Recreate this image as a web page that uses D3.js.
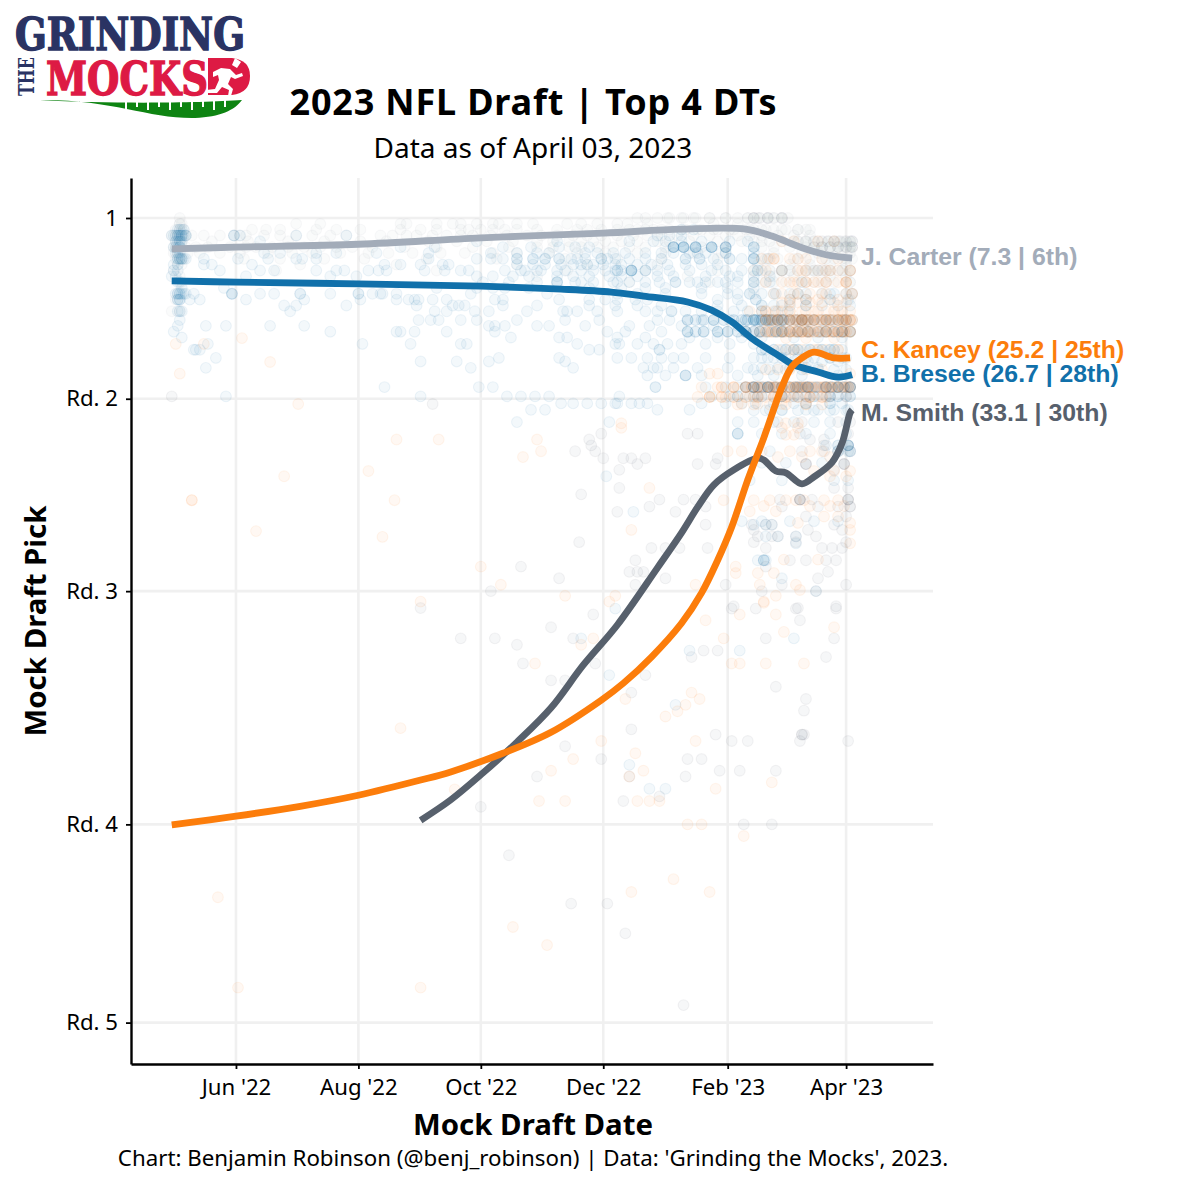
<!DOCTYPE html>
<html><head><meta charset="utf-8">
<script src="https://d3js.org/d3.v7.min.js"></script>
<style>html,body{margin:0;padding:0;background:#fff}svg{display:block}</style></head>
<body><svg id="c" width="1200" height="1200"></svg>
<script>
// values: day = days since 1 Jun 2022, pick = overall mock draft pick
const players = ["J. Carter","B. Bresee","C. Kancey","M. Smith"];
const colors = ["#a3acb9","#1170aa","#fc7d0b","#57606c"];
const endLabels = ["J. Carter (7.3 | 6th)","B. Bresee (26.7 | 28th)","C. Kancey (25.2 | 25th)","M. Smith (33.1 | 30th)"];
const monthTicks = ["2022-06-01","2022-08-01","2022-10-01","2022-12-01","2023-02-01","2023-04-01"];
const monthLabels = ["Jun '22","Aug '22","Oct '22","Dec '22","Feb '23","Apr '23"];
const roundPicks = [1,32,65,105,139];
const roundLabels = ["1","Rd. 2","Rd. 3","Rd. 4","Rd. 5"];

const carterLineDay  = [-32,0,61,122,183,222,254,267,282,294,307];
const carterLinePick = [6.3,6,5.5,4.4,3.6,2.9,2.9,4.1,6.1,7.3,7.9];
const breseeLineDay  = [-32,0,61,122,162,187,203,225,237,247,258,270,278,290,300,307];
const breseeLinePick = [11.8,12,12.3,12.7,13.2,13.7,14.4,15.4,16.8,18.8,21.9,24.5,26.2,27.4,28.3,27.9];
const kanceyLineDay  = [-32,0,32,61,92,107,133,157,182,193,207,222,232,240,247,255,263,272,277,282,288,298,306];
const kanceyLinePick = [105.1,103.6,101.9,100,97.4,96,92.8,89.2,83.7,80.8,76.3,70.5,65.3,59.7,54,45.9,38.7,30,26.5,25,24,25,25];
const smithLineDay   = [92,107,123,140,157,173,190,210,222,230,238,248,260,263,269,274,282,288,297,302,306,307];
const smithLinePick  = [104.3,100.8,96.2,90.9,85,77.7,70.8,61,55,50.6,46.8,44.2,42.2,42.5,44.4,44.7,46.6,45.4,42.9,39.6,34.4,33.9];

const carterPts = [
[1,[-28,200,215,223,229,236,244,258,258,260,265,265,272,272,275]],
[2,[-28,-28,-27,30,42,82,85,100,108,112,120,128,131,140,148,165,172,180,190,195,205,238,250]],
[3,[-30,-28,-26,8,15,22,40,50,62,82,92,100,112,116,122,128,134,140,150,160,170,175,182,190,196,204,212,222,230,238,246,254,258,262,268,274,280,284]],
[4,[-32,-30,-29,-27,-25,-22,-16,-8,-1,2,5,14,22,30,38,47,55,72,78,85,90,98,105,112,118,127,135,145,152,160,168,175,182,190,198,205,212,220,228,236,244,250,256,262,270,278,286]],
[5,[-30,-27,-12,6,26,44,62,75,96,110,125,138,150,158,166,172,178,184,192,200,210,216,226,240,252,258,262,266,272,278,284,290,295,298,300,303,306,306,307]],
[6,[-31,-30,-28,-25,-20,-14,-3,5,10,18,26,34,42,50,58,68,84,100,118,136,150,158,166,172,180,188,196,204,214,232,244,262,268,276,284,292,296,300,303,306,306,307]],
[7,[-31,-29,-24,-18,-8,2,16,28,38,52,66,76,88,102,114,128,140,156,170,184,200,214,228,242,268,282,290,300,306]],
[8,[-30,-28,-27,4,22,44,64,95,130,164,190,212,240,264,280,292,298,304,307]],
[9,[-29,-27,32,80,140,175,210,260,276,286,296,304]],
[10,[-31,20,100,165,204,240,258,272,280,286,294,300,306]],
[11,[-28,150,225,268,278,296,304]],
[12,[-27,196,236,264,282,288,294,304,306]],
[14,[258,280,307]],
[15,[-30,284,296,306]],
[17,[-32,-28,262]]
];
const breseePts = [
[3,[-29,-28,-27,-26,222,228]],
[4,[-32,-31,-30,-29,-29,-28,-28,-27,-27,-26,-25,-25,-1,-1,2,30,55,210,216,222]],
[5,[-30,-29,-28,-28,-27,12,120,160,196,208,214,222,232,246,255]],
[6,[-31,-30,-29,-28,-28,82,99,133,147,161,169,176,218,218,218,223,223,223,229,229,229,237,237,237,244,244,258,258,258]],
[7,[-30,-29,-28,14,22,40,50,70,96,127,150,174,188,212,230,244,258,140,156,180,194,204]],
[8,[-29,-29,-28,-28,-27,-27,-26,-25,-16,1,16,30,33,40,96,120,127,133,140,140,148,148,154,154,161,161,167,174,182,182,189,224,224,231,231,246,246,258,258,258,258,265,170,185,196,204,212,238,252]],
[9,[-31,-29,-16,-12,8,74,82,92,103,106,140,148,154,162,175,183,189,200,215,240,168,172,178,192,207,224,232]],
[10,[-31,-29,-8,12,19,40,50,54,66,71,75,94,104,112,116,134,142,152,160,172,189,190,197,197,197,197,204,210,237,252,260,260,272,290,144,150,164,178,184,192,216,226,244]],
[11,[-32,-30,5,47,60,120,160,192,218,250,258,128,138,146,168,176,186,200,210,234,246,266]],
[12,[-29,-28,123,160,160,160,169,172,188,190,211,219,219,230,234,240,250,258,258,282,136,150,178,196,204,226,244,266]],
[13,[-27,-6,100,128,176,204,245,120,134,146,192,214,232,258]],
[14,[-30,-29,-29,-28,-28,-27,-26,-25,-21,-2,-2,-2,12,19,32,32,47,61,61,68,73,72,80,117,155,245,250,269,280,307,190,200,214,232,256,296]],
[15,[-29,-29,-28,-28,-23,-18,5,34,62,80,86,89,91,98,105,129,133,161,184,190,199,259,259,284,296,176,205,240,250,276,305]],
[16,[24,30,55,90,108,111,114,133,150,176,189,240,262,272,200,212,252,284]],
[17,[-29,-28,-27,27,99,105,119,126,145,163,165,170,180,210,217,217,224,248,269,275,190,204,232,240,255,262]],
[18.5,[-28,91,97,101,112,120,140,164,181,210,225,232,246,259,259,259,265,265,265,272,272,272,282,282,294,302,307,216,238]],
[19.5,[-29,-15,-5,17,34,126,129,134,150,156,174,196,238,206,222,250]],
[20.5,[-31,47,80,82,89,105,129,185,225,233,240,245,254,254,261,269,272,272,282,285,294,302,306,194,212]],
[21.5,[-27,137,161,165,190,204,240,252,226,262,278,290,302]],
[22.6,[-14,63,87,112,115,170,189,191,200,208,215,222,234,246,258]],
[23.6,[-21,-20,-18,176,181,211,211,272,278,278,284,290,296,296,264,302]],
[25,[-10,131,161,197,205,218,223,234,246,258,265,272,284,296,304,190,212]],
[25.6,[92,110,126,164,285,300,278,292]],
[26.7,[-15,117,168,203,208,210,218,230,245,255,270,290,262,276,284]],
[28,[205,214,224,224,224,268,282,300,232,250,260]],
[30,[74,121,128,209,209,234,244,250,258,258,265,265,279,285,294,300,306]],
[31.6,[-5,92,135,142,149,156,191,237,250,258,272,280,300,306,288,294]],
[32.8,[162,168,175,182,189,190,197,201,205,232,244,252,259,284,296,284,296,302,268,278]],
[33.9,[147,154,210,226,266,272,305,284,290,298]],
[36,[140,186,250,296]],
[38,[250,250,250]],
[40,[294,305,305]],
[41,[266,305]],
[45.3,[184.5]],
[51.4,[198]],
[53.6,[258,264,267]],
[55.6,[264,270,279]],
[56.8,[279]],
[59.7,[260,263,263,263,264]],
[62.8,[272]],
[65,[289]],
[68,[189]],
[73.1,[172,278]],
[75.2,[226,251]],
[79.4,[186]],
[84.5,[219]],
[94.8,[196]],
[98.9,[206,214]]
];
const kanceyPts = [
[5,[272,278,290,298]],
[8,[262,266,268,280]],
[10,[264,272,280,282,284,290,294,296,300,306,306]],
[12,[264,272,278,284,288,294,304,304]],
[14,[268,280,292,307,307]],
[15,[276,284,290,300]],
[17,[256,262,264,270,276,284,290,298,302]],
[18.5,[264,268,270,276,278,280,282,282,282,284,286,288,290,294,294,296,300,302,302,304,306,307,307]],
[20.5,[261,266,272,276,278,280,282,284,286,290,294,296,300,302,304,306]],
[21.6,[3,274,284,298]],
[22.6,[-30,-16]],
[23.6,[278,290,300]],
[25.7,[17,282]],
[27.7,[-28,236,240,306]],
[30,[232,240,248,254,260,266,268,270,272,276,278,280,282,284,286,292,294,296,300,304,306]],
[31.7,[230,236,244,258,264,270,276,286,294]],
[32.9,[31,252,260,272,284]],
[36.2,[192,274,280]],
[37,[192,280,272]],
[38.2,[274,278]],
[39,[80,101,150]],
[41,[152,245,252,262,276,286,292]],
[42,[143,270,282,296]],
[44.4,[66,288,298,306]],
[45.3,[24,296,304]],
[47.3,[206]],
[49.4,[-22,-22,79,243,258,266,274,279,283,293,300]],
[50.4,[263,286,296,303]],
[51.3,[256,269]],
[52.2,[293,300]],
[53.3,[280,306]],
[54.5,[197,306]],
[54.7,[10]],
[55.7,[73]],
[56.8,[306]],
[59.6,[273,290]],
[60.8,[122,249]],
[61.9,[249,260,268]],
[63.9,[132,229,261,279]],
[64.8,[281]],
[65.8,[164,189,269]],
[66.8,[92,186,263]],
[67,[263]],
[69,[251,269]],
[70,[234]],
[71.2,[298]],
[72,[273]],
[73.1,[178,243]],
[74.2,[172]],
[77.4,[149,247,251,264,283]],
[82.4,[227]],
[83.5,[194,231]],
[84.5,[224]],
[85.6,[220]],
[86.5,[214]],
[88.5,[82]],
[90.7,[182,229]],
[92.8,[199]],
[93.8,[168]],
[95.8,[157,203]],
[96.8,[196]],
[97.8,[267]],
[98.9,[239]],
[99,[109]],
[101,[151,164,200,206,211]],
[105,[225,232]],
[107,[253]],
[114.4,[218]],
[116.6,[197,236]],
[117.5,[-9]],
[122.6,[138]],
[125.7,[155]],
[133,[1,92]]
];
const smithPts = [
[30,[258,260,265,268,280,285,294,300,306,306]],
[31.6,[-32,260,272,284,296,304]],
[32.9,[98]],
[36,[270,282,300,306]],
[38,[182,225,230,281,305]],
[39,[176,286,293]],
[40,[177,305,293]],
[41,[169,179,282,293,300,306]],
[42.2,[183,193,197,204,240]],
[43.2,[200,230,239,284,284,303,303]],
[44.2,[191,298]],
[47.3,[191,298,305]],
[48.4,[172]],
[49.3,[211,223,229,271,281,281,281,287,305,305]],
[50.5,[206,234,272,290,300,306,306]],
[51.4,[190,219]],
[52.2,[284,304]],
[53.6,[234,257,264,267,298]],
[54.5,[258,285,302]],
[55.6,[260,267,270,279,289]],
[56.6,[171,258,279,304]],
[57.6,[207,214,221,235,264,292,297,302]],
[59.7,[199,276,284,294,299]],
[60.8,[142,264]],
[61.7,[196,200,203,295]],
[62.8,[161,214,290]],
[63.9,[199,244,272,304]],
[65,[127,262,289]],
[67.6,[248,299]],
[67.9,[92,280]],
[68,[247,259,279,299]],
[69,[178]],
[70,[281]],
[71.2,[157]],
[73.1,[112,129,168,264,298]],
[74.2,[140]],
[75.2,[233,240]],
[76.3,[227,294]],
[77.4,[143,179]],
[79.4,[204]],
[80.3,[157,164]],
[81.4,[269]],
[82.4,[197]],
[83.5,[284]],
[85.5,[283]],
[88.7,[197]],
[89.6,[239,282,282,283]],
[90.7,[247,255,281,305]],
[91.6,[164]],
[93.8,[182,225,232]],
[95.8,[241,251,269]],
[96.8,[150,196,224]],
[101,[193]],
[100.2,[211]],
[102,[122]],
[105,[253,267]],
[110.3,[136]],
[118.6,[167,185]],
[123.7,[194]],
[136,[223]]
];

// dense rows where many mock drafts overlap: [pick, days, how many drafts on each]
const carterDense = [
[1,[255,258,261,265,268,272],2],
[1,[204,210,216,222,228,236,244,250],1],
[3,[200,208,216,224,232,240,248,256,264,272,280,286],1],
[5,[280,284,288,292,295,298,301,304,307],2],
[6,[288,292,296,300,304,307],3],
[8,[262,270,278,286,294,302],1],
[10,[258,262,266,272,276,284,288,292,296,302,306],2],
[12,[258,262,268,274,284,292,298,306],1]
];
const breseeDense = [
[6,[218,223,229,237,244],2],
[7,[218,226,234,244],1],
[10,[190,197,204],1],
[14,[256,262,268,276,284,292,298,304],1],
[16,[262,268,276,284,292,300,306],1],
[18.5,[225,229,233,238,243,248,252,255,258,261,264,267,270,273,276,279,282,285,288,292,296,300,304],2],
[18.5,[254,258,262,266,270],2],
[20.5,[225,229,233,240,245,250,254,258,261,265,269,272,276,280,285,290,294,298,302,306],2],
[23.6,[262,268,274,280,286,292,298],2],
[25,[262,268,274,280,288,296,302],1],
[27,[258,266,274,282,290,298,304],1],
[30,[254,258,262,265,269,272,276,279,282,285,289,294,297,300,303,306],2],
[31.6,[246,250,256,262,272,278,288,296,300,306],1],
[34,[258,264,272,280,288,296,304],1],
[36,[258,268,278,288,304],1],
[38,[262,272,284,296,304],1],
[40,[300,305],2],
[41,[300,306],2],
[43,[262,274,292],1],
[46,[256,272,298,305],1],
[53,[252,262,276,288,300],1]
];
const kanceyDense = [
[8,[268,276,284,292,300],1],
[12,[276,280,284,290,294,300,304],1],
[14,[272,278,286,294,304],1],
[15.5,[272,276,280,286,292,298,304],1],
[17,[264,268,272,276,282,288,294,300,306],1],
[18.5,[264,267,270,273,276,279,282,285,288,291,294,297,300,303,306],2],
[20.5,[264,267,270,273,276,279,282,285,288,291,294,297,300,303,306],2],
[23.6,[270,276,282,288,294,300],1],
[27,[264,270,276,284,292],1],
[30,[242,248,254,257,260,263,266,269,272,275,278,281,284,287,290,293,296,299,302,305],2],
[31.7,[236,242,248,254,260,268,274,280,286,292],2],
[33,[250,258,266,274,284,292],1]
];
const smithDense = [
[18.5,[262,268,272,276,280,284,288,294,298,304],1],
[20.5,[254,258,262,268,274,280,286,292,298,302],1],
[30,[254,258,261,265,268,272,276,280,283,285,288,291,294,297,300,303,306],1],
[31.6,[262,268,272,278,284,290,296,304],1],
[43.2,[284,303],1],
[49.3,[281,305],1]
];

const seriesPts = [carterPts,breseePts,kanceyPts,smithPts];
const seriesDense = [carterDense,breseeDense,kanceyDense,smithDense];
const seriesLines = [[carterLineDay,carterLinePick],[breseeLineDay,breseeLinePick],[kanceyLineDay,kanceyLinePick],[smithLineDay,smithLinePick]];

const F = "'Noto Sans','Open Sans',sans-serif";
const svg = d3.select("#c");
const day0 = new Date(2022,5,1);
const toDate = d => new Date(day0.getTime()+d*864e5);
const x = d3.scaleTime().domain([toDate(-52.3),toDate(347.3)]).range([131,933]);
const y = d3.scaleLinear().domain([-5.86,146.1]).range([178,1064]);
const ticksX = monthTicks.map(s=>{const [a,b,c]=s.split("-").map(Number);return new Date(a,b-1,c);});

const grid = svg.append("g").attr("stroke","#f0f0f0").attr("stroke-width",2.6);
grid.selectAll(".gx").data(ticksX).join("line").attr("x1",d=>x(d)).attr("x2",d=>x(d)).attr("y1",178).attr("y2",1064);
grid.selectAll(".gy").data(roundPicks).join("line").attr("y1",d=>y(d)).attr("y2",d=>y(d)).attr("x1",131).attr("x2",933);

seriesPts.forEach((rows,i)=>{
  const pts = rows.flatMap(([p,ds])=>ds.map(d=>({p,d})));
  seriesDense[i].forEach(([p,ds,n])=>ds.forEach(d=>{for(let k=0;k<n;k++)pts.push({p,d});}));
  svg.append("g").selectAll("circle").data(pts).join("circle")
    .attr("cx",d=>x(toDate(d.d))).attr("cy",d=>y(d.p)).attr("r",5.4)
    .attr("fill",colors[i]).attr("fill-opacity",.05)
    .attr("stroke",colors[i]).attr("stroke-opacity",.065).attr("stroke-width",1.1);
});

const line = d3.line().x(d=>x(toDate(d[0]))).y(d=>y(d[1])).curve(d3.curveCatmullRom.alpha(0.5));
[0,1,3,2].forEach(i=>{
  const [ds,ps]=seriesLines[i];
  svg.append("path").attr("d",line(ds.map((d,k)=>[d,ps[k]])))
    .attr("fill","none").attr("stroke",colors[i]).attr("stroke-width",6.8).attr("stroke-linejoin","round");
});

const labelY=[256.5,373.5,349.5,412.5];
endLabels.forEach((t,i)=>svg.append("text").text(t).attr("x",861).attr("y",labelY[i]).attr("dy","0.35em")
  .attr("font-family","'Liberation Sans',Arial,sans-serif").attr("font-weight",700).attr("font-size",24.8).attr("fill",colors[i]));

const xAxis = d3.axisBottom(x).tickValues(ticksX).tickFormat((d,i)=>monthLabels[i]).tickSize(5).tickSizeOuter(0).tickPadding(10);
const yAxis = d3.axisLeft(y).tickValues(roundPicks).tickFormat((d,i)=>roundLabels[i]).tickSize(5).tickSizeOuter(0).tickPadding(8);
const gx = svg.append("g").attr("transform","translate(0,1064)").call(xAxis);
const gy = svg.append("g").attr("transform","translate(131,0)").call(yAxis);
[gx,gy].forEach(g=>{
  g.selectAll("path").attr("stroke","#000").attr("stroke-width",2.4);
  g.selectAll("line").attr("stroke","#000").attr("stroke-width",1.8);
  g.selectAll("text").attr("font-family",F).attr("font-size",22.2).attr("fill","#000");
});
function txt(t,xx,yy,size,bold,len){const s=svg.append("text").text(t).attr("x",xx).attr("y",yy).attr("text-anchor","middle")
  .attr("font-family",F).attr("font-size",size).attr("font-weight",bold?700:400).attr("fill","#000");
  if(len)s.attr("textLength",len).attr("lengthAdjust","spacing");return s;}
txt("2023 NFL Draft | Top 4 DTs",533,115,36,true,487);
txt("Data as of April 03, 2023",533,158,28,false);
txt("Mock Draft Date",533,1135,29.4,true);
txt("Chart: Benjamin Robinson (@benj_robinson) | Data: 'Grinding the Mocks', 2023.",533,1166,22.3,false);
txt("Mock Draft Pick",0,0,29.4,true).attr("transform","translate(46,621) rotate(-90)");

// logo
const logo = svg.append("g");
const slab = "'DejaVu Serif','Liberation Serif',serif";
logo.append("text").text("GRINDING").attr("x",15).attr("y",50).attr("textLength",230).attr("lengthAdjust","spacingAndGlyphs")
  .attr("font-family",slab).attr("font-weight",700).attr("font-size",44).attr("fill","#2a3363").attr("stroke","#2a3363").attr("stroke-width",1.4);
logo.append("text").text("THE").attr("transform","translate(34,96) rotate(-90)").attr("textLength",39).attr("lengthAdjust","spacingAndGlyphs")
  .attr("font-family",slab).attr("font-weight",700).attr("font-size",22).attr("fill","#2a3363");
logo.append("text").text("MOCKS").attr("x",46).attr("y",95).attr("textLength",162).attr("lengthAdjust","spacingAndGlyphs")
  .attr("font-family",slab).attr("font-weight",700).attr("font-size",46).attr("fill","#dd1a44").attr("stroke","#dd1a44").attr("stroke-width",1.4);
logo.append("path").attr("d","M208 58H232Q250 60 250 76Q250 93 232 95H208Z").attr("fill","#dd1a44");
logo.append("path").attr("d","M235 58l6 4-4 6-5-3zM213 72l8-4 9 1 6 6 6-2 1 3-8 3-4-2-3 7 5 5-2 7h-3l1-6-7-3-5 6-12 0 1-3 9-1 4-9-1-5-5 2z").attr("fill","#fff");
logo.append("path").attr("d","M40 100C110 99 150 119 195 118C220 117 235 110 242 100C200 103 110 104 40 100Z").attr("fill","#0e8412");
logo.append("g").attr("stroke","#fff").attr("stroke-width",2).selectAll("line")
  .data(d3.range(0,10)).join("line").attr("x1",d=>126+d*11).attr("x2",d=>126+d*11).attr("y1",100).attr("y2",d=>d%2?107:110);
</script></body></html>
